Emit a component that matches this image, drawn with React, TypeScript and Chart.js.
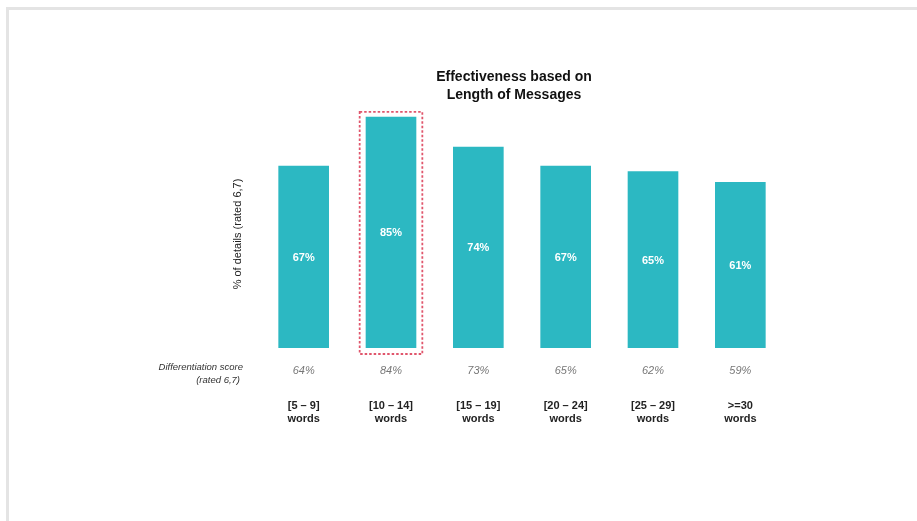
import React, { useEffect, useRef } from "react";
import { Chart, registerables } from "chart.js";

Chart.register(...registerables);

const categories: string[][] = [
  ["[5 – 9]", "words"],
  ["[10 – 14]", "words"],
  ["[15 – 19]", "words"],
  ["[20 – 24]", "words"],
  ["[25 – 29]", "words"],
  [">=30", "words"],
];
const detailsPct: number[] = [67, 85, 74, 67, 65, 61];
const differentiationPct: number[] = [64, 84, 73, 65, 62, 59];
const highlightIndex = 1;
const titleLines: string[] = ["Effectiveness based on", "Length of Messages"];
const yTitle = "% of details (rated 6,7)";
const rowLabel: string[] = ["Differentiation score", "(rated 6,7)"];

const FONT = "'Liberation Sans', Arial, sans-serif";

const overlayPlugin = {
  id: "overlay",
  afterDraw(chart: any) {
    const ctx: CanvasRenderingContext2D = chart.ctx;
    const xs = chart.scales.x;
    const meta = chart.getDatasetMeta(0);
    ctx.save();

    // frame
    ctx.fillStyle = "#e4e4e4";
    ctx.fillRect(6, 7, 911, 3);
    ctx.fillRect(6, 7, 3, 514);

    // title
    ctx.fillStyle = "#111";
    ctx.font = `bold 14px ${FONT}`;
    ctx.textAlign = "center";
    ctx.textBaseline = "middle";
    titleLines.forEach((t, i) => ctx.fillText(t, 514, 77 + i * 18));

    // y title
    ctx.save();
    ctx.translate(238, 234);
    ctx.rotate(-Math.PI / 2);
    ctx.font = `11px ${FONT}`;
    ctx.fillStyle = "#222";
    ctx.fillText(yTitle, 0, 0);
    ctx.restore();

    // bar value labels
    ctx.font = `bold 11px ${FONT}`;
    ctx.fillStyle = "#ffffff";
    meta.data.forEach((bar: any, i: number) => {
      const mid = (bar.y + bar.base) / 2;
      ctx.fillText(detailsPct[i] + "%", bar.x, mid + 1);
    });

    // highlight dashed box
    const hb: any = meta.data[highlightIndex];
    if (hb) {
      ctx.save();
      ctx.strokeStyle = "#e0566c";
      ctx.lineWidth = 1.8;
      ctx.setLineDash([2.5, 2]);
      const left = hb.x - hb.width / 2 - 6;
      const right = hb.x + hb.width / 2 + 6;
      ctx.strokeRect(left, hb.y - 5, right - left, hb.base - hb.y + 11);
      ctx.restore();
    }

    // differentiation row label
    ctx.font = `italic 9.5px ${FONT}`;
    ctx.fillStyle = "#333";
    ctx.textAlign = "right";
    ctx.fillText(rowLabel[0], 243, 367);
    ctx.fillText(rowLabel[1], 240, 380);

    // differentiation values
    ctx.textAlign = "center";
    ctx.font = `italic 11px ${FONT}`;
    ctx.fillStyle = "#777";
    differentiationPct.forEach((v, i) => {
      ctx.fillText(v + "%", xs.getPixelForValue(i), 371);
    });

    // category labels
    ctx.font = `bold 11px ${FONT}`;
    ctx.fillStyle = "#222";
    categories.forEach((lines, i) => {
      lines.forEach((l, j) => ctx.fillText(l, xs.getPixelForValue(i), 406 + j * 13));
    });

    ctx.restore();
  },
};

export default function App() {
  const ref = useRef<HTMLCanvasElement | null>(null);
  useEffect(() => {
    if (!ref.current) return;
    const chart = new Chart(ref.current, {
      type: "bar",
      data: {
        labels: categories.map((c) => c.join(" ")),
        datasets: [
          {
            data: detailsPct,
            backgroundColor: "#2cb8c2",
            borderWidth: 0,
            barPercentage: 0.58,
            categoryPercentage: 1,
          },
        ],
      },
      options: {
        animation: false,
        responsive: true,
        maintainAspectRatio: false,
        layout: { padding: { left: 260, right: 133, top: 76, bottom: 173 } },
        scales: {
          x: { display: false },
          y: { display: false, min: 0, max: 100 },
        },
        plugins: {
          legend: { display: false },
          tooltip: { enabled: false },
          title: { display: false },
        },
      },
      plugins: [overlayPlugin],
    });
    return () => chart.destroy();
  }, []);
  return (
    <div style={{ position: "absolute", left: 0, top: 0, width: 917, height: 521, background: "#fff" }}>
      <canvas ref={ref} />
    </div>
  );
}
